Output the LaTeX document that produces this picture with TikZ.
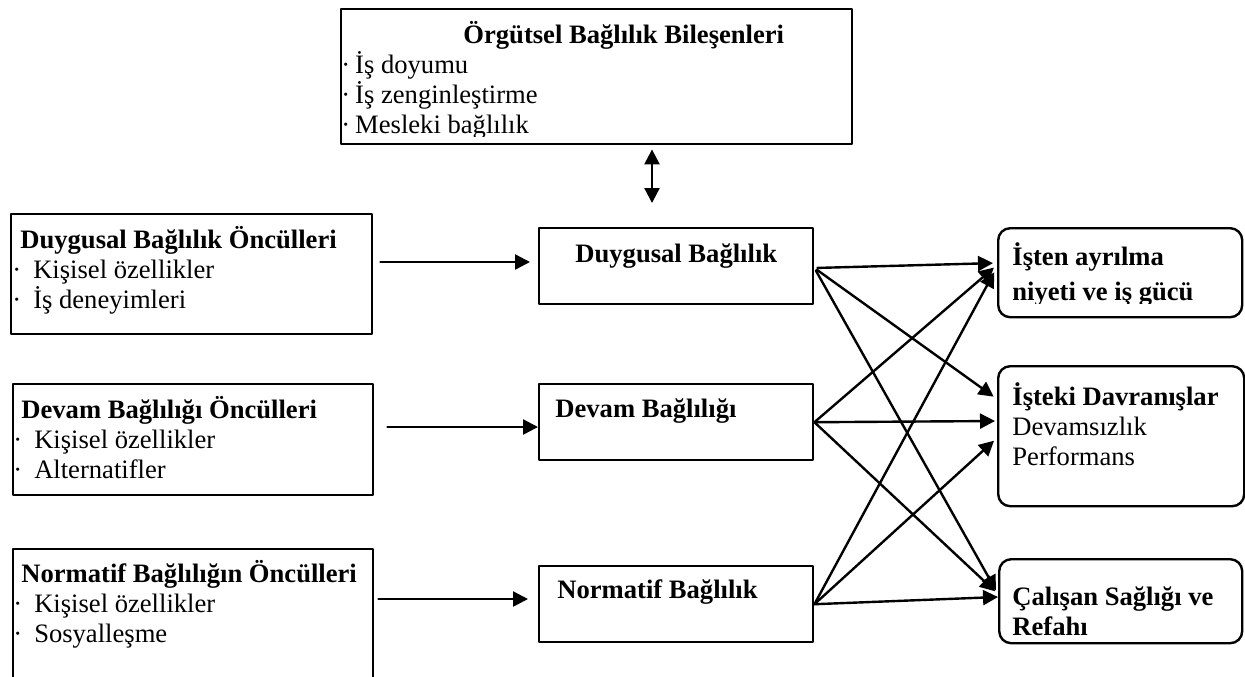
\documentclass[tikz,border=0pt]{standalone}
\usepackage{fontspec}
\setmainfont{Liberation Serif}
\usetikzlibrary{arrows.meta}
\newcommand{\tstrut}{\rule{0pt}{12pt}}
\newcommand{\madde}[1][6pt]{·\hspace{#1}}

\begin{document}
\begin{tikzpicture}[line cap=round,line join=round,>={Triangle[length=7.5pt,width=7.5pt]},x=0.5pt,y=-0.5pt,
		box/.style={draw,line width=1.2pt,anchor=north west,inner sep=0pt},
		rbox/.style={box,rounded corners=6pt},
		txt/.style={anchor=north west,inner sep=0pt,align=left,font=\fontsize{13.3}{15}\selectfont},
		arr/.style={->,line width=1.2pt}]
		\useasboundingbox (0,0) rectangle (1245,676);
		\clip (0,0) rectangle (1245,676);
		% kutular
		\node[box,minimum width=255.5pt,minimum height=67.5pt] (org) at (340,8) {};
		\node[box,minimum width=180.5pt,minimum height=60pt] (ond1) at (10,213) {};
		\node[box,minimum width=180pt,minimum height=55.5pt] (ond2) at (12,383) {};
		\node[box,minimum width=180pt,minimum height=100pt] (ond3) at (12,548) {};
		\node[box,minimum width=137pt,minimum height=38pt] (duy) at (538,227) {};
		\node[box,minimum width=137pt,minimum height=38pt] (dev) at (538,383) {};
		\node[box,minimum width=137pt,minimum height=38pt] (nor) at (538,565) {};
		\node[rbox,minimum width=122pt,minimum height=44.5pt] (ist) at (997,227) {};
		\node[rbox,minimum width=123pt,minimum height=70pt] (isd) at (997,365) {};
		\node[rbox,minimum width=121.5pt,minimum height=42pt] (cal) at (998,558) {};
		% metinler
		\begin{scope}
			\clip (340,8) rectangle (851,136);
			\node[txt] (org-txt) at (341,19) {\tstrut\hspace*{61pt}\textbf{Örgütsel Bağlılık Bileşenleri}\\\madde[2.5pt]İş doyumu\\\madde[2.5pt]İş zenginleştirme\\\madde[2.5pt]Mesleki bağlılık};
		\end{scope}
		\node[txt] (ond1-txt) at (12,224) {\tstrut\hspace*{4pt}\textbf{Duygusal Bağlılık Öncülleri}\\\madde Kişisel özellikler\\\madde İş deneyimleri};
		\node[txt] (ond2-txt) at (13,394) {\tstrut\hspace*{4pt}\textbf{Devam Bağlılığı Öncülleri}\\\madde Kişisel özellikler\\\madde Alternatifler};
		\node[txt] (ond3-txt) at (13,558) {\tstrut\hspace*{4pt}\textbf{Normatif Bağlılığın Öncülleri}\\\madde Kişisel özellikler\\\madde Sosyalleşme};
		\node[txt] (duy-txt) at (575,238) {\tstrut\textbf{Duygusal Bağlılık}};
		\node[txt] (dev-txt) at (555,393) {\tstrut\textbf{Devam Bağlılığı}};
		\node[txt] (nor-txt) at (557,574) {\tstrut\textbf{Normatif Bağlılık}};
		\begin{scope}
			\clip (997,227) rectangle (1241,303);
			\node[txt] (ist-txt) at (1012,241) {\tstrut\textbf{İşten ayrılma}\\[2.5pt]\textbf{niyeti ve iş gücü}};
		\end{scope}
		\node[txt] (isd-txt) at (1012,381) {\tstrut\textbf{İşteki Davranışlar}\\Devamsızlık\\Performans};
		\node[txt] (cal-txt) at (1012,581) {\tstrut\textbf{Çalışan Sağlığı ve}\\\textbf{Refahı}};
		% oklar
		\coordinate (link) at (652,203);
		\draw[<->,line width=1.2pt,shorten <=2pt] (org.south -| link) -- (link);
		\draw[arr,shorten <=3.5pt,shorten >=4pt] (ond1.east |- 0,262) -- (duy.west |- 0,262);
		\draw[arr,shorten <=6.5pt] (ond2.east |- 0,427) -- (dev.west |- 0,427);
		\draw[arr,shorten <=2pt,shorten >=5pt] (ond3.east |- 0,599) -- (nor.west |- 0,599);
		\draw[arr,shorten <=1.5pt,shorten >=2pt] (duy.east |- 0,268) -- (ist.west |- 0,263);
		\draw[arr,shorten <=1.5pt,shorten >=2pt] (duy.east |- 0,268) -- (isd.west |- 0,399);
		\draw[arr,shorten <=1.5pt,shorten >=2pt] (duy.east |- 0,268) -- (cal.west |- 0,594);
		\draw[arr,shorten >=2pt] (dev.east) -- (ist.west |- 0,265);
		\draw[arr,shorten >=1pt] (dev.east) -- (isd.west |- 0,421);
		\draw[arr,shorten >=2pt] (dev.east) -- (cal.west |- 0,594);
		\draw[arr,shorten >=3pt] (nor.east) -- (ist.west |- 0,267);
		\draw[arr,shorten >=2pt] (nor.east) -- (isd.west |- 0,438);
		\draw[arr] (nor.east) -- (cal.west |- 0,597);
	\end{tikzpicture}
\end{document}
